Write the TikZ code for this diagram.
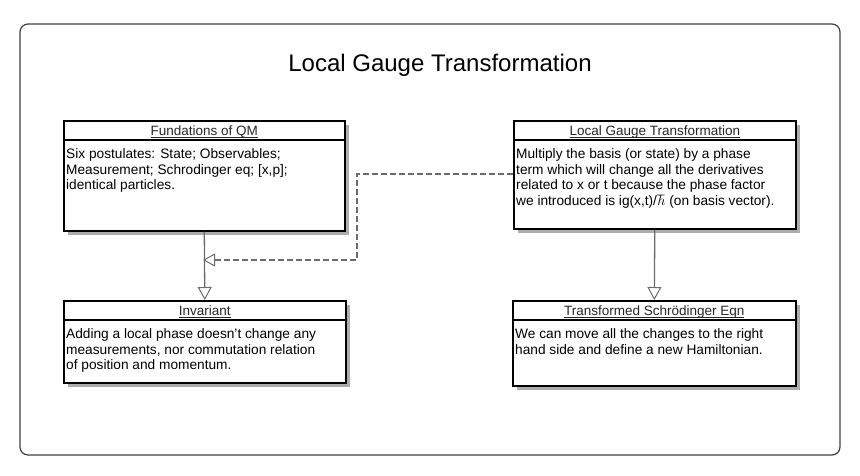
\documentclass[tikz,border=0pt]{standalone}
\usepackage{fontspec}
\setmainfont{Liberation Sans}
\usetikzlibrary{arrows.meta,shadows}
\newcommand{\ulhdr}[1]{\underline{\smash{#1}}}
\begin{document}
\begin{tikzpicture}[x=1pt,y=-1pt,
  umlbox/.style={draw=black,line width=1.6pt,fill=white,rectangle,anchor=north west,inner sep=0pt,
    drop shadow={shadow xshift=4.5pt,shadow yshift=-4.5pt,fill=black!32,opacity=1}},
  hdr/.style={anchor=base,inner sep=0pt,font=\fontsize{13.5}{15}\selectfont,text=black!85},
  body/.style={anchor=north west,inner sep=0pt,align=left,font=\fontsize{13.7}{15.6}\selectfont},
  conn/.style={draw=black!58,line width=1.3pt},
  tri/.style={-{Triangle[open,length=13pt,width=14pt,fill=white,line width=1pt]}}
]
\useasboundingbox (0,0) rectangle (860,475);
\draw[black!75,line width=1.2pt,rounded corners=8pt] (20,24) rectangle (840,455);
\node[anchor=base,font=\fontsize{24}{28}\selectfont] (title) at (440,71) {Local Gauge Transformation};

% boxes
\node[umlbox,minimum width=281pt,minimum height=110pt] (b1) at (63,120) {};
\node[umlbox,minimum width=282pt,minimum height=108pt] (b2) at (513,120) {};
\node[umlbox,minimum width=282pt,minimum height=82pt] (b3) at (63,300) {};
\node[umlbox,minimum width=283pt,minimum height=85pt] (b4) at (512,300) {};

\foreach \b in {b1,b2,b3,b4}{
  \draw[black,line width=1.2pt] ([yshift=-20pt]\b.north west) -- ([yshift=-20pt]\b.north east);
}

% headers
\node[hdr] (h1) at ([yshift=-15.5pt]b1.north) {\ulhdr{Fundations of QM}};
\node[hdr] (h2) at ([yshift=-15.5pt]b2.north) {\ulhdr{Local Gauge Transformation}};
\node[hdr] (h3) at ([yshift=-15.5pt]b3.north) {\ulhdr{Invariant}};
\node[hdr] (h4) at ([yshift=-15.5pt]b4.north) {\ulhdr{Transformed Schrödinger Eqn}};

% bodies
\node[body] (t1) at ([xshift=3pt,yshift=-28.5pt]b1.north west) {Six postulates: State; Observables;\\Measurement; Schrodinger eq; [x,p];\\identical particles.};
\node[body] (t2) at ([xshift=3pt,yshift=-28.5pt]b2.north west) {Multiply the basis (or state) by a phase\\term which will change all the derivatives\\related to x or t because the phase factor\\we introduced is ig(x,t)/$\hbar$ (on basis vector).};
\node[body] (t3) at ([xshift=3pt,yshift=-28.5pt]b3.north west) {Adding a local phase doesn\symbol{"27}t change any\\measurements, nor commutation relation\\of position and momentum.};
\node[body] (t4) at ([xshift=3pt,yshift=-28.5pt]b4.north west) {We can move all the changes to the right\\hand side and define a new Hamiltonian.};

% connectors
\draw[conn,tri] (b1.south) -- (b3.north);
\draw[conn,tri] (b2.south) -- (b4.north);
\coordinate (ds) at (513,174);
\coordinate (dc) at (357,260);
\coordinate (de) at (203,260);
\draw[conn,-{Triangle[open,length=12pt,width=13pt,fill=white,line width=1pt]},dash pattern=on 6pt off 3pt] (ds) -| (dc) -- (de);
\end{tikzpicture}
\end{document}
